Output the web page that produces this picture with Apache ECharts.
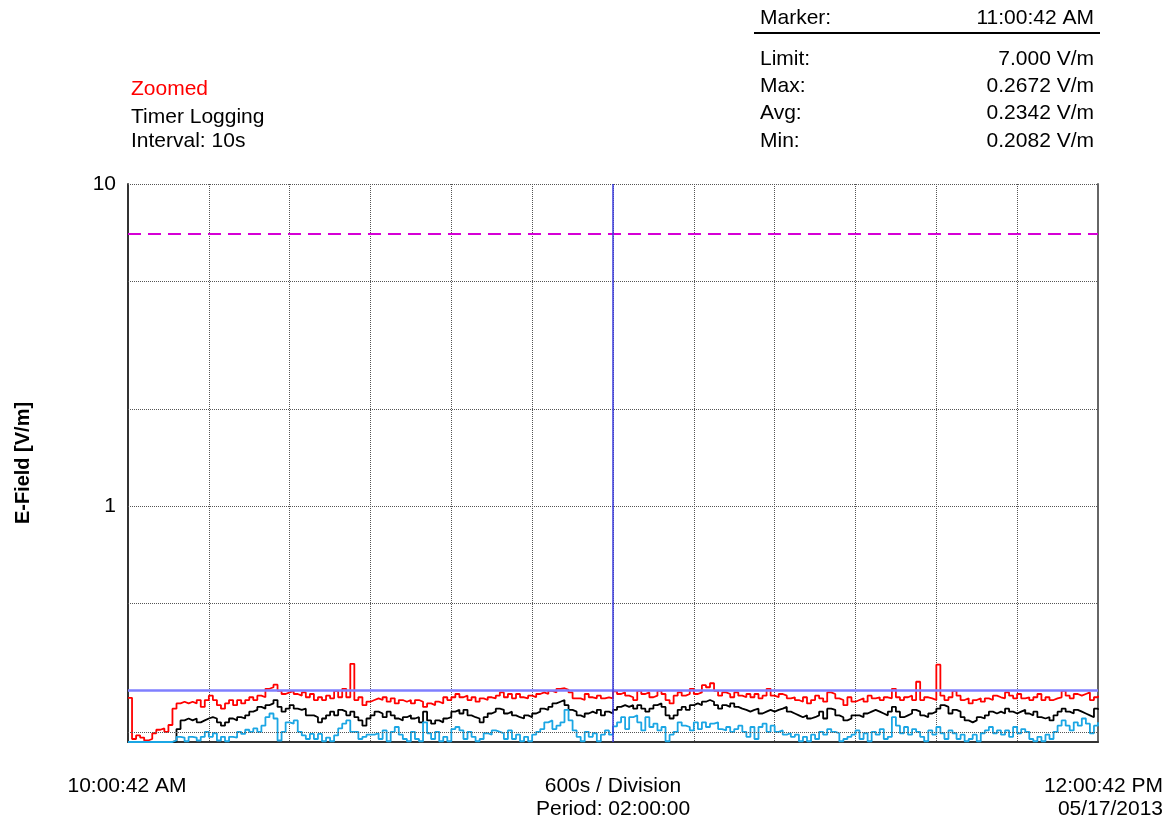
<!DOCTYPE html>
<html lang="en">
<head>
<meta charset="UTF-8">
<title>E-Field Timer Logging</title>
<script src="https://cdn.jsdelivr.net/npm/echarts@6/dist/echarts.min.js"></script>
<style>
    html, body { margin: 0; padding: 0; background: #ffffff; }
    #chart { width: 1171px; height: 825px; }
</style>
</head>
<body>
<div id="chart"></div>
<script>
// spacing of the values, in seconds from 10:00:42 AM
var stepSeconds = 30;
var periodSeconds = 7200;
var divisionSeconds = 600;

// Max trace (red), V/m
var maxVals = [
    0.255,0.19,0.195,0.192,0.188,0.19,0.198,0.203,0.205,0.2,
    0.21,0.236,0.245,0.248,0.245,0.248,0.245,0.251,0.239,0.251,
    0.259,0.251,0.242,0.236,0.245,0.251,0.242,0.251,0.245,0.251,
    0.256,0.251,0.259,0.256,0.272,0.275,0.28,0.268,0.262,0.265,
    0.268,0.262,0.259,0.265,0.256,0.262,0.251,0.256,0.251,0.259,
    0.254,0.268,0.256,0.272,0.256,0.325,0.251,0.256,0.242,0.248,
    0.251,0.254,0.251,0.256,0.248,0.254,0.245,0.251,0.248,0.251,
    0.245,0.251,0.248,0.239,0.245,0.242,0.248,0.245,0.256,0.251,
    0.256,0.262,0.256,0.259,0.251,0.256,0.248,0.254,0.251,0.256,
    0.254,0.259,0.265,0.256,0.262,0.254,0.262,0.256,0.254,0.259,
    0.256,0.262,0.265,0.262,0.268,0.265,0.272,0.273,0.27,0.265,
    0.254,0.254,0.251,0.262,0.256,0.254,0.259,0.254,0.256,0.254,
    0.267,0.262,0.265,0.259,0.256,0.251,0.268,0.262,0.265,0.256,
    0.259,0.268,0.262,0.251,0.245,0.259,0.265,0.259,0.262,0.272,
    0.262,0.265,0.279,0.275,0.283,0.268,0.259,0.265,0.262,0.256,
    0.265,0.259,0.256,0.262,0.256,0.262,0.254,0.259,0.272,0.259,
    0.256,0.262,0.259,0.254,0.256,0.251,0.248,0.256,0.245,0.251,
    0.259,0.254,0.248,0.265,0.262,0.254,0.251,0.242,0.256,0.248,
    0.251,0.254,0.248,0.259,0.254,0.256,0.251,0.256,0.254,0.272,
    0.256,0.251,0.256,0.259,0.251,0.286,0.251,0.256,0.254,0.251,
    0.323,0.259,0.251,0.256,0.268,0.259,0.251,0.254,0.245,0.251,
    0.254,0.248,0.254,0.251,0.259,0.256,0.254,0.265,0.259,0.254,
    0.262,0.254,0.256,0.251,0.256,0.262,0.251,0.256,0.251,0.254,
    0.256,0.268,0.259,0.254,0.262,0.259,0.262,0.265,0.251,0.256,
    0.259
];

// Avg trace (black), V/m
var avgVals = [
    0.186,0.186,0.186,0.186,0.186,0.186,0.186,0.186,0.186,0.186,
    0.186,0.187,0.204,0.217,0.22,0.217,0.22,0.214,0.217,0.22,
    0.222,0.22,0.214,0.209,0.214,0.22,0.217,0.222,0.22,0.225,
    0.231,0.234,0.239,0.236,0.242,0.245,0.251,0.239,0.231,0.236,
    0.242,0.236,0.234,0.236,0.225,0.225,0.222,0.214,0.22,0.225,
    0.231,0.225,0.234,0.231,0.225,0.231,0.222,0.217,0.209,0.22,
    0.225,0.231,0.228,0.222,0.231,0.225,0.22,0.217,0.222,0.225,
    0.22,0.222,0.214,0.231,0.217,0.212,0.217,0.214,0.22,0.222,
    0.231,0.234,0.228,0.234,0.225,0.222,0.22,0.214,0.222,0.228,
    0.231,0.236,0.234,0.228,0.231,0.225,0.222,0.22,0.225,0.222,
    0.228,0.231,0.236,0.234,0.239,0.245,0.248,0.251,0.242,0.234,
    0.231,0.225,0.222,0.228,0.231,0.228,0.234,0.225,0.231,0.228,
    0.234,0.239,0.242,0.239,0.242,0.236,0.242,0.236,0.231,0.236,
    0.242,0.245,0.239,0.225,0.22,0.225,0.234,0.239,0.234,0.242,
    0.245,0.242,0.248,0.251,0.248,0.242,0.236,0.242,0.239,0.245,
    0.239,0.236,0.234,0.231,0.234,0.236,0.228,0.231,0.234,0.231,
    0.234,0.236,0.239,0.231,0.228,0.225,0.222,0.225,0.22,0.222,
    0.225,0.231,0.22,0.236,0.234,0.225,0.222,0.217,0.22,0.225,
    0.225,0.222,0.228,0.231,0.234,0.231,0.228,0.225,0.231,0.239,
    0.231,0.222,0.225,0.228,0.234,0.231,0.225,0.222,0.228,0.231,
    0.236,0.242,0.239,0.228,0.234,0.231,0.222,0.217,0.214,0.217,
    0.222,0.22,0.225,0.231,0.228,0.231,0.228,0.236,0.231,0.228,
    0.231,0.234,0.228,0.225,0.231,0.222,0.22,0.222,0.217,0.225,
    0.231,0.236,0.231,0.228,0.234,0.231,0.228,0.225,0.222,0.236,
    0.234
];

// Min trace (blue), V/m
var minVals = [
    0.186,0.186,0.186,0.186,0.186,0.186,0.186,0.186,0.186,0.186,
    0.186,0.188,0.193,0.192,0.187,0.193,0.192,0.188,0.193,0.2,
    0.193,0.198,0.188,0.193,0.187,0.193,0.192,0.2,0.197,0.203,
    0.2,0.205,0.2,0.209,0.222,0.228,0.22,0.188,0.2,0.214,
    0.212,0.217,0.2,0.195,0.19,0.197,0.19,0.197,0.187,0.192,
    0.187,0.195,0.205,0.212,0.217,0.2,0.2,0.19,0.193,0.196,
    0.196,0.198,0.19,0.202,0.187,0.2,0.207,0.196,0.19,0.187,
    0.2,0.19,0.187,0.214,0.198,0.19,0.2,0.187,0.193,0.187,
    0.204,0.207,0.202,0.19,0.2,0.193,0.187,0.19,0.198,0.196,
    0.202,0.2,0.198,0.19,0.202,0.19,0.196,0.187,0.193,0.187,
    0.196,0.2,0.204,0.214,0.217,0.204,0.209,0.214,0.234,0.217,
    0.202,0.193,0.187,0.2,0.193,0.198,0.187,0.196,0.202,0.196,
    0.208,0.214,0.222,0.204,0.222,0.225,0.214,0.202,0.222,0.207,
    0.212,0.202,0.207,0.187,0.196,0.2,0.214,0.209,0.207,0.202,
    0.214,0.204,0.214,0.207,0.212,0.214,0.204,0.202,0.207,0.2,
    0.204,0.209,0.2,0.193,0.207,0.19,0.207,0.212,0.2,0.209,
    0.2,0.202,0.196,0.198,0.193,0.196,0.187,0.193,0.187,0.196,
    0.19,0.2,0.196,0.204,0.2,0.198,0.187,0.19,0.193,0.196,
    0.202,0.19,0.198,0.187,0.2,0.196,0.204,0.19,0.193,0.222,
    0.209,0.198,0.207,0.196,0.204,0.2,0.193,0.187,0.202,0.196,
    0.207,0.198,0.19,0.202,0.198,0.19,0.196,0.187,0.19,0.196,
    0.187,0.198,0.202,0.207,0.198,0.202,0.196,0.202,0.193,0.207,
    0.198,0.204,0.2,0.19,0.187,0.193,0.187,0.196,0.19,0.2,
    0.209,0.217,0.209,0.202,0.214,0.209,0.22,0.212,0.198,0.209,
    0.214
];

var yMin = 0.186;
var yMax = 10;
var gridValues = [0.2, 0.5, 1, 2, 5, 10];
var limitValue = 7.0;
var maxReading = 0.2672;
var markerSeconds = 3600;

var infoLeft = ['Timer Logging', 'Interval: 10s'];
var panelNames = ['Limit:', 'Max:', 'Avg:', 'Min:'];
var panelValues = ['7.000 V/m', '0.2672 V/m', '0.2342 V/m', '0.2082 V/m'];

var FONT = '"Liberation Sans", Arial, sans-serif';

function toPoints(vals) {
    return vals.map(function (v, i) { return [i * stepSeconds, v]; });
}

function txt(text, x, y, align, color) {
    return {
        type: 'text', x: x, y: y, silent: true,
        style: {
            text: text,
            font: '21px ' + FONT,
            fill: color || '#000',
            textAlign: align || 'left',
            textVerticalAlign: 'middle'
        }
    };
}

var chart = echarts.init(document.getElementById('chart'));

// dotted horizontal grid + top border, limit, max reading and marker
var refLines = gridValues.map(function (v) {
    return { yAxis: v, lineStyle: { color: '#555', type: [1, 1], width: 1 } };
});
refLines.push({ yAxis: limitValue, lineStyle: { color: '#d600d6', type: [13, 7], width: 2 } });
refLines.push({ yAxis: maxReading, lineStyle: { color: '#7f7fff', type: 'solid', width: 2.5 } });
refLines.push({ xAxis: markerSeconds, lineStyle: { color: '#3c3ce0', type: 'solid', width: 1.5 } });

var graphics = [
    txt('Zoomed', 131, 89, 'left', '#ff0000'),
    txt(infoLeft[0], 131, 117),
    txt(infoLeft[1], 131, 141),
    txt('Marker:', 760, 18),
    txt('11:00:42 AM', 1094, 18, 'right'),
    { type: 'line', silent: true, shape: { x1: 754, y1: 33, x2: 1100, y2: 33 }, style: { stroke: '#000', lineWidth: 2 } },
    txt('10:00:42 AM', 127, 786, 'center'),
    txt('600s / Division', 613, 786, 'center'),
    txt('Period: 02:00:00', 613, 809, 'center'),
    txt('12:00:42 PM', 1163, 786, 'right'),
    txt('05/17/2013', 1163, 809, 'right')
];
var rowY = [59, 86, 113, 141];
panelNames.forEach(function (name, i) {
    graphics.push(txt(name, 760, rowY[i]));
    graphics.push(txt(panelValues[i], 1094, rowY[i], 'right'));
});

var option = {
    backgroundColor: '#ffffff',
    animation: false,
    grid: { left: 128, right: 73, top: 184, bottom: 83 },
    xAxis: {
        type: 'value',
        min: 0,
        max: periodSeconds,
        interval: divisionSeconds,
        axisLine: { show: true, lineStyle: { color: '#333', width: 2 } },
        axisTick: { show: false },
        axisLabel: { show: false },
        splitLine: { show: true, lineStyle: { color: '#555', type: [1, 1], width: 1 } }
    },
    yAxis: [{
        type: 'log',
        logBase: 10,
        min: yMin,
        max: yMax,
        name: 'E-Field [V/m]',
        nameLocation: 'middle',
        nameGap: 95,
        nameTextStyle: { fontFamily: FONT, fontSize: 20, fontWeight: 'bold', color: '#000' },
        axisLine: { show: true, lineStyle: { color: '#333', width: 2 } },
        axisTick: { show: false },
        splitLine: { show: false },
        axisLabel: {
            fontFamily: FONT, fontSize: 21, color: '#000', margin: 12,
            formatter: function (v) {
                var e = Math.log10(v);
                return (v >= 1 && Math.abs(e - Math.round(e)) < 1e-6) ? String(Math.round(v)) : '';
            }
        }
    }, {
        type: 'log',
        logBase: 10,
        min: yMin,
        max: yMax,
        position: 'right',
        axisLine: { show: true, lineStyle: { color: '#666', width: 2 } },
        axisTick: { show: false },
        axisLabel: { show: false },
        splitLine: { show: false }
    }],
    graphic: graphics,
    series: [{
        name: 'Max',
        type: 'line',
        step: 'end',
        showSymbol: false,
        data: toPoints(maxVals),
        lineStyle: { color: '#ff0000', width: 1.8 },
        markLine: { silent: true, symbol: 'none', label: { show: false }, data: refLines }
    }, {
        name: 'Avg',
        type: 'line',
        step: 'end',
        showSymbol: false,
        data: toPoints(avgVals),
        lineStyle: { color: '#000000', width: 1.8 }
    }, {
        name: 'Min',
        type: 'line',
        step: 'end',
        showSymbol: false,
        data: toPoints(minVals),
        lineStyle: { color: '#1ba6e4', width: 1.8 }
    }]
};

chart.setOption(option);
</script>
</body>
</html>
